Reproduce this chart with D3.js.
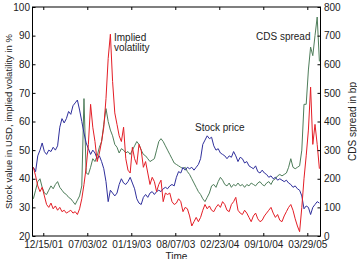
<!DOCTYPE html>
<html><head><meta charset="utf-8">
<script src="https://cdn.jsdelivr.net/npm/d3@7"></script>
<style>
html,body{margin:0;padding:0;background:#fff;}
svg{display:block;font-family:Arial,"Liberation Sans",Helvetica,sans-serif;}
</style></head>
<body><svg id="c" width="357" height="259"></svg>
<script>
// ---- data ----
const startDate = "2001-10-31";   // first observation
const stepDays = 10;              // spacing of observations (days)
const xTickLabels = ["12/15/01","07/03/02","01/19/03","08/07/03","02/23/04","09/10/04","03/29/05"];
const leftTicks = [20,30,40,50,60,70,80,90,100];
const rightTicks = [0,100,200,300,400,500,600,700,800];

// Stock price (USD)
const stockPrice = [44,42.5,48,50,52.5,49.5,48.5,50,49.5,51,50,51.5,58,61,59.5,61,63.5,62.5,65.5,66.5,
67.5,64,60,56,52.5,50.5,48.5,50,49,47,48,46,43.5,39,32,36,35,34,35,38,
40,38.5,38,39,40.5,38.5,36.5,33,31.5,31,33.5,34.5,33.5,35,35.5,34.5,35.5,36,35.5,36.5,
37,36.5,37.5,38,37.5,40.5,42.5,42,44,43,44,43.5,44,43,44,45,47,52,53.5,55,
54,54.5,51.5,50,50.5,49,48.5,48,47,48,47.5,49.5,48,46,47.5,47,45.5,46,44.5,44,
43.5,44.5,42.5,42,43,42,41.5,40.5,41,40,40.5,39.5,40,39.5,39,39.5,38.5,38,37,37.5,
36.5,36,34,29.5,30.5,30,27.5,30,31,32,31.5];

// Implied volatility (%)
const impliedVol = [44,41,37.5,35.5,37,34,31,30,31.5,29.5,30.5,29,30,28.5,29,28,28.5,29,28,28.5,
27.5,29.5,33,38,44,52,66,58,53,46,49,53,58,68,82,90.5,74,63,59,55,
53,58,47,43,42,51,47,45,52,50,44,46,42,38,40.5,39,35.5,38,39.5,32,
35,34.5,35,32,31,31.5,33,32,28.5,30,29.5,27,23.5,25,26.5,25,26.5,29,31,29.5,
30.5,29,28.5,30,31,30,32,31,29,28.5,31,32,33.5,29,28,27.5,29,28,26.5,25,
27,28,26,25,25.5,27,28,29,30,28,26.5,27.5,25.5,25,27,28.5,30,31,29,26,
23.5,21.5,30,40,48,57,72,52,59,52,43.5];

// CDS spread (bp)
const cdsSpread = [130,160,190,200,170,150,145,160,175,165,180,190,170,160,150,145,135,130,120,110,
125,140,175,480,220,215,240,270,260,280,310,330,390,445,400,370,350,320,310,290,
305,300,290,295,285,300,315,330,320,300,285,280,270,260,265,270,300,330,340,330,
315,300,285,270,255,250,245,240,235,240,225,215,200,185,170,155,145,130,120,135,
150,175,180,170,190,205,195,180,175,185,170,180,175,185,175,180,170,180,175,185,
180,175,185,190,180,175,185,190,180,195,200,210,215,210,215,220,240,270,240,235,
240,245,300,460,460,580,660,630,700,765,610];

// ---- layout ----
const W = 357, H = 259;
const m = {left:32.5, right:36.5, top:7, bottom:23};
const svg = d3.select("#c");
const iw = W - m.left - m.right, ih = H - m.top - m.bottom;
const g = svg.append("g").attr("transform",`translate(${m.left},${m.top})`);

const parseTick = d3.utcParse("%m/%d/%y");
const parseISO = d3.utcParse("%Y-%m-%d");
const t0 = parseISO(startDate);
const dates = stockPrice.map((_,i)=>d3.utcDay.offset(t0, i*stepDays));
const tickDates = xTickLabels.map(parseTick);

const x = d3.scaleUtc().domain([parseISO("2001-10-27"), parseISO("2005-05-28")]).range([0, iw]);
const y = d3.scaleLinear().domain([20,100]).range([ih,0]);
const y2 = d3.scaleLinear().domain([0,800]).range([ih,0]);

const line = (ys, vals) => d3.line().x((d,i)=>x(dates[i])).y(d=>ys(d))(vals);

const colors = {stock:"#2f2f9c", vol:"#e41e26", cds:"#4e7d5a"};

g.append("path").attr("d", line(y2, cdsSpread)).attr("fill","none").attr("stroke",colors.cds).attr("stroke-width",1);
g.append("path").attr("d", line(y, stockPrice)).attr("fill","none").attr("stroke",colors.stock).attr("stroke-width",1);
g.append("path").attr("d", line(y, impliedVol)).attr("fill","none").attr("stroke",colors.vol).attr("stroke-width",1);

// axes (ticks pointing inward)
const fs = "10px";
const styleAxis = sel => {
  sel.select(".domain").remove();
  sel.selectAll("line").attr("stroke","#000");
  sel.selectAll("text").attr("fill","#222").style("font-size",fs).style("font-family","Arial, 'Liberation Sans', sans-serif");
};
g.append("g").call(d3.axisLeft(y).tickValues(leftTicks).tickSizeInner(-3).tickSizeOuter(0).tickPadding(2.5)).call(styleAxis);
g.append("g").attr("transform",`translate(${iw},0)`)
  .call(d3.axisRight(y2).tickValues(rightTicks).tickSizeInner(-3).tickSizeOuter(0).tickPadding(3.5)).call(styleAxis);
g.append("g").attr("transform",`translate(0,${ih})`)
  .call(d3.axisBottom(x).tickValues(tickDates).tickFormat((d,i)=>xTickLabels[i]).tickSizeInner(-3).tickSizeOuter(0).tickPadding(5)).call(styleAxis);
g.append("g")
  .call(d3.axisTop(x).tickValues(tickDates).tickFormat("").tickSizeInner(-3).tickSizeOuter(0)).call(styleAxis);

g.append("rect").attr("width",iw).attr("height",ih).attr("fill","none").attr("stroke","#000").attr("stroke-width",1);

// labels
const txt = (xx,yy,s,opts={}) => svg.append("text").attr("x",xx).attr("y",yy).text(s)
  .attr("fill","#222").style("font-size",opts.size||"10px").attr("text-anchor",opts.anchor||"start")
  .attr("transform",opts.rot?`rotate(-90,${xx},${yy})`:null);

txt(12, m.top+ih/2, "Stock value in USD, implied volatility in %", {anchor:"middle", rot:true, size:"9.5px"});
txt(356, m.top+ih/2, "CDS spread in bp", {anchor:"middle", rot:true});
txt(m.left+iw/2, 259.5, "Time", {anchor:"middle"});
txt(114, 41, "Implied");
txt(114, 51, "volatility");
txt(195, 131, "Stock price");
txt(256, 40, "CDS spread");
</script></body></html>
